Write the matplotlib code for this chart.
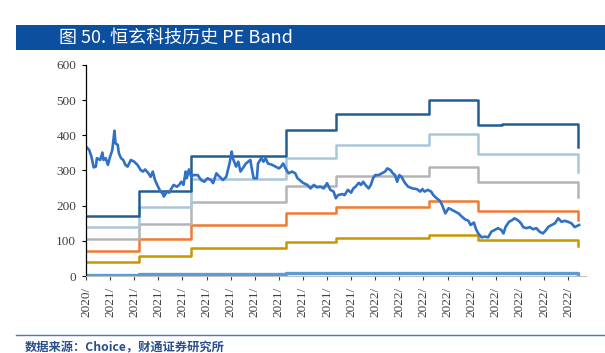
import matplotlib.pyplot as plt
from matplotlib.patches import Rectangle


# trading day index of each price reading
price_days = [
    0, 3, 5, 7, 9, 10, 13, 15, 16, 18, 20, 22, 24, 26, 27, 29, 30, 32, 34, 36,
    38, 41, 44, 47, 50, 52, 54, 57, 59, 61, 63, 65, 68, 70, 71, 74, 76, 78, 80,
    83, 85, 87, 89, 91, 92, 94, 96, 98, 102, 105, 108, 111, 114, 116, 119, 122,
    125, 128, 131, 133, 134, 137, 139, 141, 144, 146, 148, 150, 151, 153, 156,
    157, 160, 162, 164, 166, 170, 173, 176, 178, 180, 183, 185, 188, 191, 193,
    195, 198, 202, 205, 208, 211, 214, 217, 220, 223, 226, 228, 230, 234, 236,
    239, 242, 244, 246, 249, 251, 253, 255, 258, 260, 262, 264, 267, 270, 273,
    275, 278, 280, 282, 284, 286, 288, 291, 294, 298, 302, 305, 307, 309, 312,
    315, 317, 320, 323, 325, 328, 331, 334, 337, 340, 343, 346, 349, 351, 354,
    356, 358, 361, 364, 367, 370, 373, 376, 379, 381, 383, 386, 389, 391, 394,
    397, 399, 402, 405, 408, 411, 414, 417, 420, 422, 425, 428, 431, 434, 437,
    440, 443, 446, 448, 450,
]

# share price
price_vals = [
    368, 358, 339, 309, 311, 335, 330, 351, 330, 335, 316, 339, 358, 413, 377,
    373, 349, 335, 330, 316, 311, 330, 325, 316, 301, 297, 303, 292, 282, 297,
    273, 259, 240, 235, 226, 240, 237, 249, 259, 254, 259, 268, 259, 297, 278,
    303, 282, 287, 287, 273, 268, 278, 273, 264, 292, 282, 273, 282, 320, 354,
    335, 311, 325, 297, 311, 320, 325, 330, 311, 278, 278, 320, 335, 325, 335,
    320, 316, 311, 306, 311, 320, 301, 292, 297, 292, 278, 273, 265, 259, 249,
    259, 252, 254, 249, 264, 245, 240, 221, 230, 233, 230, 245, 237, 249, 254,
    265, 259, 268, 259, 249, 259, 278, 287, 287, 292, 297, 306, 301, 292, 287,
    268, 287, 282, 265, 254, 249, 247, 240, 247, 240, 245, 240, 230, 221, 214,
    202, 178, 193, 188, 183, 178, 169, 161, 157, 145, 152, 133, 121, 110, 112,
    110, 126, 131, 136, 131, 121, 140, 154, 159, 164, 159, 150, 139, 136, 139,
    133, 136, 126, 121, 131, 140, 145, 150, 164, 154, 157, 154, 150, 139, 142,
    145,
]

# days where the pe band changes (report dates), last entry is the final day
band_days = [0, 48, 96, 183, 228, 313, 358, 380, 449]

band_42x = [172, 242, 342, 415, 460, 500, 429, 432, 366]
band_34x = [138, 197, 276, 335, 372, 405, 347, 348, 296]
band_26x = [106, 149, 211, 256, 285, 309, 266, 266, 225]
band_18x = [72, 104, 146, 178, 197, 214, 185, 185, 158]
band_10x = [40, 57, 80, 98, 109, 118, 102, 102, 86]
eps_vals = [3.0, 4.3, 6.0, 7.4, 8.2, 8.9, 7.7, 7.7, 6.5]

y_ticks = [0, 100, 200, 300, 400, 500, 600]
tick_days = list(range(0, 441, 22))
tick_labels = ["2020/"] + ["2021/"] * 11 + ["2022/"] * 9


plt.rcParams["font.family"] = ["Noto Sans CJK SC", "DejaVu Sans"]

serif = ["Liberation Serif", "DejaVu Serif"]

fig = plt.figure(figsize=(6.05, 3.53), dpi=100)

# blue title bar on top
fig.patches.append(
    Rectangle(
        (0.026, 0.858), 0.974, 0.071,
        transform=fig.transFigure,
        facecolor="#0b4f9e",
        edgecolor="none",
    )
)

fig.text(
    0.097, 0.892,
    "图 50. 恒玄科技历史 PE Band",
    color="white",
    fontsize=13,
    va="center",
    ha="left",
)

ax = fig.add_axes([0.1421, 0.2181, 0.8259, 0.5978])

band_colors = ["#5b9bd5", "#c99700", "#f07a32", "#b4b4b4", "#a9c7da", "#245d93"]
band_series = [eps_vals, band_10x, band_18x, band_26x, band_34x, band_42x]

for vals, col in zip(band_series, band_colors):
    ax.step(
        band_days, vals,
        where="post",
        color=col,
        linewidth=1.8 if col != "#5b9bd5" else 2.4,
    )

ax.plot(price_days, price_vals, color="#3070c6", linewidth=1.9)

ax.set_xlim(0, 456)
ax.set_ylim(0, 600)

ax.set_yticks(y_ticks)
ax.set_yticklabels(
    [str(v) for v in y_ticks],
    fontfamily=serif,
    fontsize=9.5,
    color="#404040",
)
ax.set_xticks(tick_days)
ax.set_xticklabels(
    tick_labels,
    rotation=90,
    va="top",
    ha="center",
    fontfamily=serif,
    fontsize=9.5,
    color="#404040",
)

ax.tick_params(axis="y", length=3, width=0.8, pad=4, color="black")
ax.tick_params(axis="x", length=3, width=0.8, pad=5, color="#404040")

ax.spines["top"].set_visible(False)
ax.spines["right"].set_visible(False)
ax.spines["left"].set_color("black")
ax.spines["left"].set_linewidth(0.9)
ax.spines["bottom"].set_color("#bfbfbf")

# source line at the bottom
fig.add_artist(
    plt.Line2D(
        [0.026, 1.0], [0.051, 0.051],
        transform=fig.transFigure,
        color="#4a7ab5",
        linewidth=1.0,
    )
)

fig.text(
    0.041, 0.015,
    "数据来源：Choice，财通证券研究所",
    color="#2a4f8a",
    fontsize=8.8,
    fontweight="bold",
    va="center",
    ha="left",
)

plt.savefig("out.png", dpi=100)
plt.close()
